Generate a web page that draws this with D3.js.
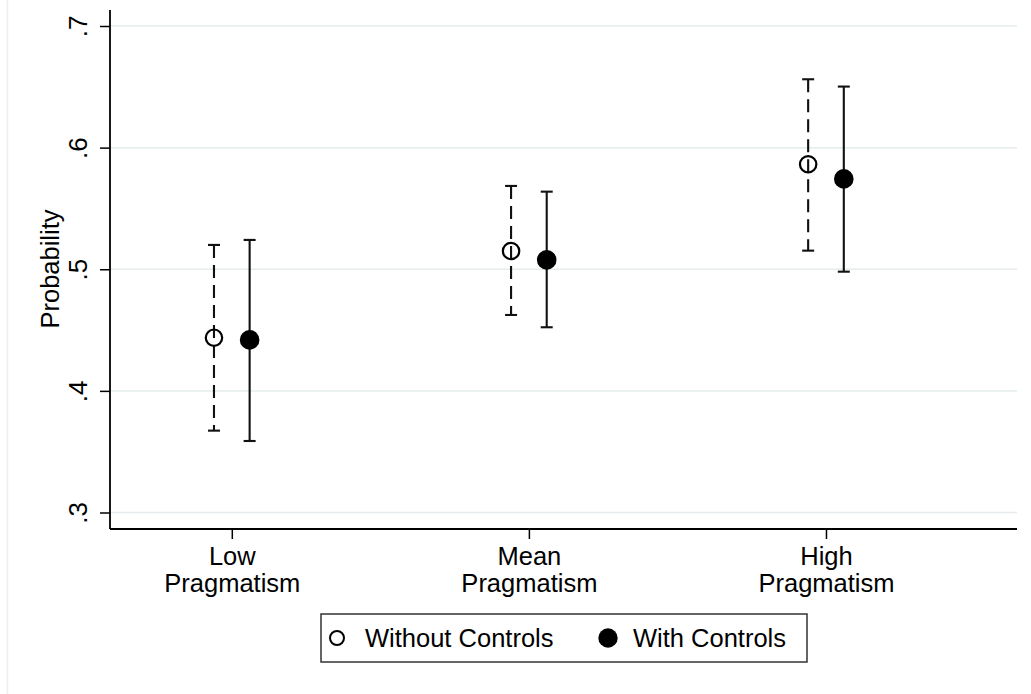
<!DOCTYPE html>
<html>
<head>
<meta charset="utf-8">
<script src="https://cdn.jsdelivr.net/npm/d3@7"></script>
<style>
  html, body { margin: 0; padding: 0; background: #fff; }
  svg { display: block; font-family: "Liberation Sans", Arial, Helvetica, sans-serif; }
</style>
</head>
<body>
<svg id="chart" width="1031" height="694"></svg>
<script>
// Predicted probabilities by level of pragmatism, with 95% confidence intervals
const categories = ["Low\nPragmatism", "Mean\nPragmatism", "High\nPragmatism"];
const seriesNames = ["Without Controls", "With Controls"];

const withoutEst = [0.4437, 0.5150, 0.5863];
const withoutLo  = [0.3673, 0.4624, 0.5153];
const withoutHi  = [0.5200, 0.5685, 0.6562];

const withEst = [0.4419, 0.5077, 0.5743];
const withLo  = [0.3588, 0.4523, 0.4980];
const withHi  = [0.5241, 0.5638, 0.6502];

const yTicks = [0.3, 0.4, 0.5, 0.6, 0.7];
const yTickLabels = [".3", ".4", ".5", ".6", ".7"];

const svg = d3.select("#chart");
const W = 1031, H = 694;
const plotLeft = 110, plotRight = 1017, plotTop = 10, plotBottom = 529;

// faint outer frame on the left edge
svg.append("line")
  .attr("x1", 7.5).attr("x2", 7.5).attr("y1", 0).attr("y2", H)
  .attr("stroke", "#eaf0f0").attr("stroke-width", 1.5);

const x = d3.scaleLinear().domain([0.59, 3.643]).range([plotLeft, plotRight]);
const y = d3.scaleLinear().domain([0.3, 0.7]).range([512.5, 26]);
const offset = 0.06;

// gridlines
svg.append("g").selectAll("line").data(yTicks).join("line")
  .attr("x1", plotLeft).attr("x2", plotRight)
  .attr("y1", d => y(d)).attr("y2", d => y(d))
  .attr("stroke", "#e6ecee").attr("stroke-width", 1.5);

// y axis
const yAxis = svg.append("g").attr("transform", `translate(${plotLeft},0)`)
  .call(d3.axisLeft(y).tickValues(yTicks).tickSize(10).tickFormat((d, i) => yTickLabels[i]));
yAxis.select(".domain").remove();
yAxis.selectAll(".tick line").attr("stroke", "#000").attr("stroke-width", 1.5);
yAxis.selectAll(".tick text").remove();
yAxis.selectAll(".tick").append("text")
  .attr("transform", "translate(-32,0) rotate(-90)")
  .attr("text-anchor", "middle")
  .attr("dominant-baseline", "central")
  .attr("fill", "#000")
  .style("font-size", "26px")
  .text((d, i) => yTickLabels[i]);
svg.append("line")
  .attr("x1", plotLeft).attr("x2", plotLeft).attr("y1", plotTop).attr("y2", plotBottom)
  .attr("stroke", "#000").attr("stroke-width", 1.8);

// x axis
const xAxis = svg.append("g").attr("transform", `translate(0,${plotBottom})`)
  .call(d3.axisBottom(x).tickValues([1, 2, 3]).tickSize(10).tickFormat(""));
xAxis.select(".domain").remove();
xAxis.selectAll(".tick line").attr("stroke", "#000").attr("stroke-width", 1.5);
xAxis.selectAll(".tick").each(function(d) {
  const t = d3.select(this).append("text")
    .attr("text-anchor", "middle").attr("fill", "#000")
    .style("font-size", "25.5px");
  categories[d - 1].split("\n").forEach((line, i) => {
    t.append("tspan").attr("x", 0).attr("y", 36 + i * 27).text(line);
  });
});
svg.append("line")
  .attr("x1", plotLeft).attr("x2", plotRight).attr("y1", plotBottom).attr("y2", plotBottom)
  .attr("stroke", "#000").attr("stroke-width", 1.8);

// y axis title
svg.append("text")
  .attr("transform", "translate(50,269) rotate(-90)")
  .attr("text-anchor", "middle")
  .attr("dominant-baseline", "central")
  .style("font-size", "25.5px")
  .text("Probability");

// confidence intervals and point estimates
const series = [
  { est: withoutEst, lo: withoutLo, hi: withoutHi, dx: -offset, dash: "13,7", filled: false },
  { est: withEst, lo: withLo, hi: withHi, dx: offset, dash: null, filled: true }
];
const capHalf = 6;

series.forEach(s => {
  const g = svg.append("g");
  const idx = d3.range(categories.length);
  g.selectAll("line.ci").data(idx).join("line").attr("class", "ci")
    .attr("x1", i => x(i + 1 + s.dx)).attr("x2", i => x(i + 1 + s.dx))
    .attr("y1", i => y(s.hi[i])).attr("y2", i => y(s.lo[i]))
    .attr("stroke", "#111").attr("stroke-width", 2.1)
    .attr("stroke-dasharray", s.dash);
  [s.hi, s.lo].forEach(arr => {
    g.selectAll(null).data(idx).join("line")
      .attr("x1", i => x(i + 1 + s.dx) - capHalf).attr("x2", i => x(i + 1 + s.dx) + capHalf)
      .attr("y1", i => y(arr[i])).attr("y2", i => y(arr[i]))
      .attr("stroke", "#111").attr("stroke-width", 2.1);
  });
  g.selectAll("circle").data(idx).join("circle")
    .attr("cx", i => x(i + 1 + s.dx)).attr("cy", i => y(s.est[i]))
    .attr("r", s.filled ? 9.8 : 8.2)
    .attr("fill", s.filled ? "#000" : "none")
    .attr("stroke", "#000").attr("stroke-width", s.filled ? 0 : 2.2);
});

// legend
const lg = svg.append("g");
lg.append("rect")
  .attr("x", 321).attr("y", 614).attr("width", 486).attr("height", 48)
  .attr("fill", "#fff").attr("stroke", "#333").attr("stroke-width", 1.5);
lg.append("circle").attr("cx", 337).attr("cy", 638).attr("r", 7)
  .attr("fill", "none").attr("stroke", "#000").attr("stroke-width", 2);
lg.append("text").attr("x", 365).attr("y", 647).style("font-size", "25.5px").text(seriesNames[0]);
lg.append("circle").attr("cx", 608).attr("cy", 638).attr("r", 9.7).attr("fill", "#000");
lg.append("text").attr("x", 633).attr("y", 647).style("font-size", "25.5px").text(seriesNames[1]);
</script>
</body>
</html>
